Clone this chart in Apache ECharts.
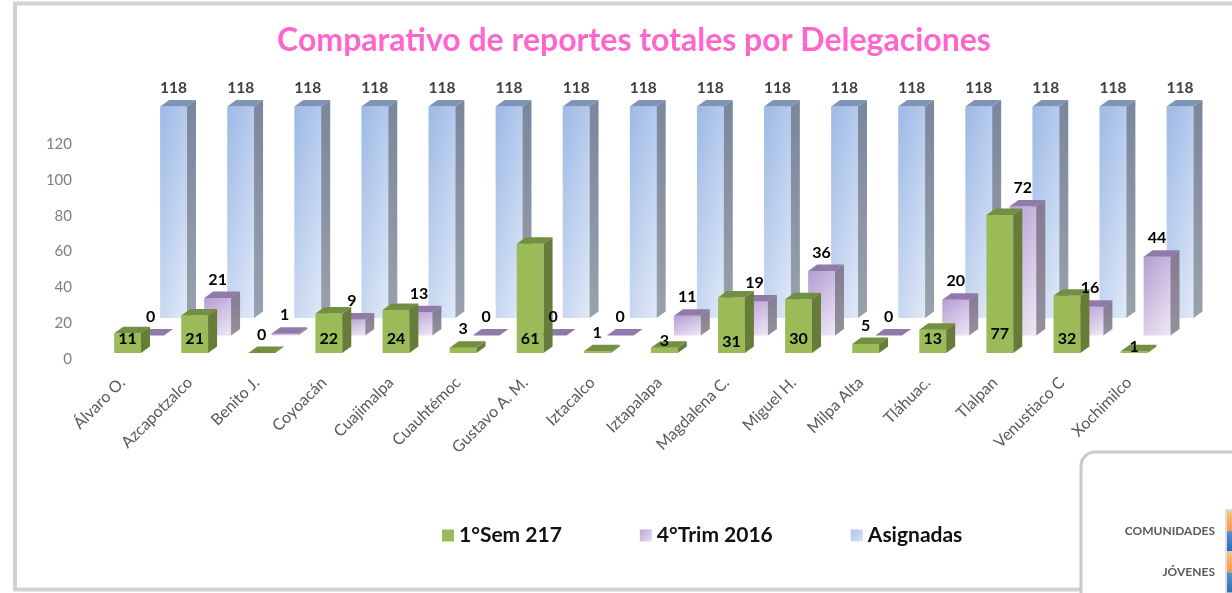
<!DOCTYPE html>
<html>
<head>
<meta charset="utf-8">
<style>
  html, body { margin: 0; padding: 0; background: #fff; }
  #chart { width: 1232px; height: 593px; }
</style>
</head>
<body>
<div id="chart"></div>
<script src="https://cdn.jsdelivr.net/npm/echarts@6/dist/echarts.min.js"></script>
<script>
const delegaciones = ['Álvaro O.', 'Azcapotzalco', 'Benito J.', 'Coyoacán', 'Cuajimalpa', 'Cuauhtémoc', 'Gustavo A. M.', 'Iztacalco', 'Iztapalapa', 'Magdalena C.', 'Miguel H.', 'Milpa Alta', 'Tláhuac.', 'Tlalpan', 'Venustiaco C', 'Xochimilco'];
const sem2017 = [11, 21, 0, 22, 24, 3, 61, 1, 3, 31, 30, 5, 13, 77, 32, 1];
const trim2016 = [0, 21, 1, 9, 13, 0, 0, 0, 11, 19, 36, 0, 20, 72, 16, 44];
const asignadas = [118, 118, 118, 118, 118, 118, 118, 118, 118, 118, 118, 118, 118, 118, 118, 118];
const yTicks = [0, 20, 40, 60, 80, 100, 120];

// the cut-off chart in the corner, its bars run past the edge of the picture
const insetCategorias = ['COMUNIDADES', 'JÓVENES'];
const insetNaranja = [5, 5];
const insetAzul = [5, 5];

const font = 'Lato, "Open Sans", sans-serif';
const lin = (x2, y2, a, b) => new echarts.graphic.LinearGradient(0, 0, x2, y2, [
  { offset: 0, color: a },
  { offset: 1, color: b }
]);

// fake 3D look
const stepX = 23, stepY = 17.5, baseY = -6, depthX = 9, depthY = 6.5;

function box(api, k) {
  const i = api.value(0), v = api.value(1);
  const c0 = api.coord([i, 0]), c1 = api.coord([i, v]);
  const w = api.size([1, 0])[0] * 0.4;
  const x = c0[0] - w / 2 + k * stepX;
  const yb = c0[1] + baseY - k * stepY;
  const yt = yb - (c0[1] - c1[1]);
  return { i, v, x, w, yb, yt };
}

// the shading runs a little across and mostly down, whatever the bar height
function faceFill(colors, w, h) {
  if (typeof colors === 'string') return colors;
  const a = 0.35 / w, b = 0.65 / h, n = a * a + b * b;
  return lin(a / n / w, b / n / h, colors[0], colors[1]);
}

function renderBar(k, front, side, top) {
  return function (params, api) {
    const b = box(api, k);
    const children = [];
    if (b.yb - b.yt > 0.5) {
      children.push({
        type: 'rect',
        shape: { x: b.x, y: b.yt, width: b.w, height: b.yb - b.yt },
        style: { fill: faceFill(front, b.w, b.yb - b.yt) }
      });
    }
    children.push({
      type: 'polygon',
      shape: { points: [[b.x + b.w, b.yt], [b.x + b.w + depthX, b.yt - depthY], [b.x + b.w + depthX, b.yb - depthY], [b.x + b.w, b.yb]] },
      style: { fill: side }
    });
    children.push({
      type: 'polygon',
      shape: { points: [[b.x, b.yt], [b.x + depthX, b.yt - depthY], [b.x + b.w + depthX, b.yt - depthY], [b.x + b.w, b.yt]] },
      style: { fill: top }
    });
    return { type: 'group', children };
  };
}

// labels go in their own series so they stay over every bar
const ajusteVerde = { 8: 12, 9: 3, 13: -5, 15: 14 };

function renderLabel(k, color, size) {
  return function (params, api) {
    const b = box(api, k);
    let y = b.yt - depthY - 12;
    if (k === 0) {
      y = b.v >= 10 ? b.yb - 14 : y;
      y += ajusteVerde[b.i] || 0;
    }
    return {
      type: 'text',
      style: {
        text: String(b.v),
        x: b.x + b.w / 2,
        y: y,
        fill: color,
        align: 'center',
        verticalAlign: 'middle',
        font: 'bold ' + size + 'px ' + font
      }
    };
  };
}

function barSeries(name, values, k, z, front, side, top) {
  return {
    type: 'custom',
    name: name,
    z: z,
    renderItem: renderBar(k, front, side, top),
    encode: { x: 0, y: 1 },
    data: values.map((v, i) => [i, v])
  };
}

function labelSeries(values, k, color, size) {
  return {
    type: 'custom',
    z: 10,
    silent: true,
    renderItem: renderLabel(k, color, size),
    encode: { x: 0, y: 1 },
    data: values.map((v, i) => [i, v])
  };
}

const verde = '#9BBB59';

const myChart = echarts.init(document.getElementById('chart'));
myChart.setOption({
  backgroundColor: '#fff',
  animation: false,
  title: {
    text: 'Comparativo de reportes totales por Delegaciones',
    left: 629,
    top: 20,
    textAlign: 'center',
    textStyle: { color: '#FF66CC', fontFamily: font, fontWeight: 'bold', fontSize: 32 }
  },
  legend: {
    left: 437,
    top: 520,
    icon: 'rect',
    itemWidth: 12,
    itemHeight: 12,
    itemGap: 78,
    textStyle: { color: '#111', fontFamily: font, fontWeight: 'bold', fontSize: 21 },
    data: [
      { name: '1°Sem 217', itemStyle: { color: verde } },
      { name: '4°Trim 2016', itemStyle: { color: lin(1, 1, '#BBA5D6', '#E6DEF0') } },
      { name: 'Asignadas', itemStyle: { color: lin(1, 1, '#A9C1E9', '#DCE6F6') } }
    ]
  },
  grid: [
    { left: 94, right: 64.4, top: 144, bottom: 234 },
    { left: 1227, right: 0, top: 510.5, height: 86 }
  ],
  xAxis: [
    {
      type: 'category',
      data: delegaciones,
      axisLine: { show: false },
      axisTick: { show: false },
      axisLabel: { interval: 0, rotate: 45, margin: 16, padding: [0, 7, 0, 0], color: '#595959', fontFamily: font, fontSize: 16 }
    },
    { gridIndex: 1, type: 'value', min: 0, max: 5, show: false }
  ],
  yAxis: [
    {
      type: 'value',
      min: yTicks[0],
      max: yTicks[yTicks.length - 1],
      interval: 20,
      axisLine: { show: false },
      axisTick: { show: false },
      splitLine: { show: false },
      axisLabel: { margin: 22, color: '#7F7F7F', fontFamily: font, fontSize: 15 }
    },
    {
      gridIndex: 1,
      type: 'category',
      inverse: true,
      z: 5,
      data: insetCategorias,
      axisLine: { show: true, lineStyle: { color: '#DDDDDD', width: 4 } },
      axisTick: { show: false },
      splitLine: { show: true, lineStyle: { color: '#DDDDDD', width: 3 } },
      axisLabel: { margin: 12, color: '#595959', fontFamily: font, fontWeight: 'bold', fontSize: 12 }
    }
  ],
  series: [
    barSeries('Asignadas', asignadas, 2, 3, ['#9DB9E6', '#E0E9F7'], lin(0, 1, '#7A869C', '#99A1AD'), '#7E94B8'),
    barSeries('4°Trim 2016', trim2016, 1, 4, ['#B59CD3', '#EFE9F5'], lin(0, 1, '#857A93', '#93909B'), '#8F7AA9'),
    barSeries('1°Sem 217', sem2017, 0, 5, verde, '#667C38', '#738F41'),
    labelSeries(asignadas, 2, '#404040', 15.5),
    labelSeries(trim2016, 1, '#000', 16),
    labelSeries(sem2017, 0, '#000', 16),
    {
      type: 'bar', xAxisIndex: 1, yAxisIndex: 1, barWidth: 20, barGap: 0, z: 6,
      itemStyle: { color: lin(0, 1, '#FBBE80', '#F79646') },
      data: insetNaranja
    },
    {
      type: 'bar', xAxisIndex: 1, yAxisIndex: 1, barWidth: 20, barGap: 0, z: 6,
      itemStyle: { color: lin(0, 1, '#5B8FD0', '#2F6DB0') },
      data: insetAzul
    }
  ],
  graphic: [
    {
      type: 'rect', z: 0,
      shape: { x: 15, y: 3.5, width: 1400, height: 586 },
      style: { fill: '#fff', stroke: '#D2D2D2', lineWidth: 4 }
    },
    {
      type: 'rect', z: 1,
      shape: { x: 1081, y: 452, width: 400, height: 300, r: 14 },
      style: { fill: '#fff', stroke: '#C9C9C9', lineWidth: 3 }
    }
  ]
});
</script>
</body>
</html>
